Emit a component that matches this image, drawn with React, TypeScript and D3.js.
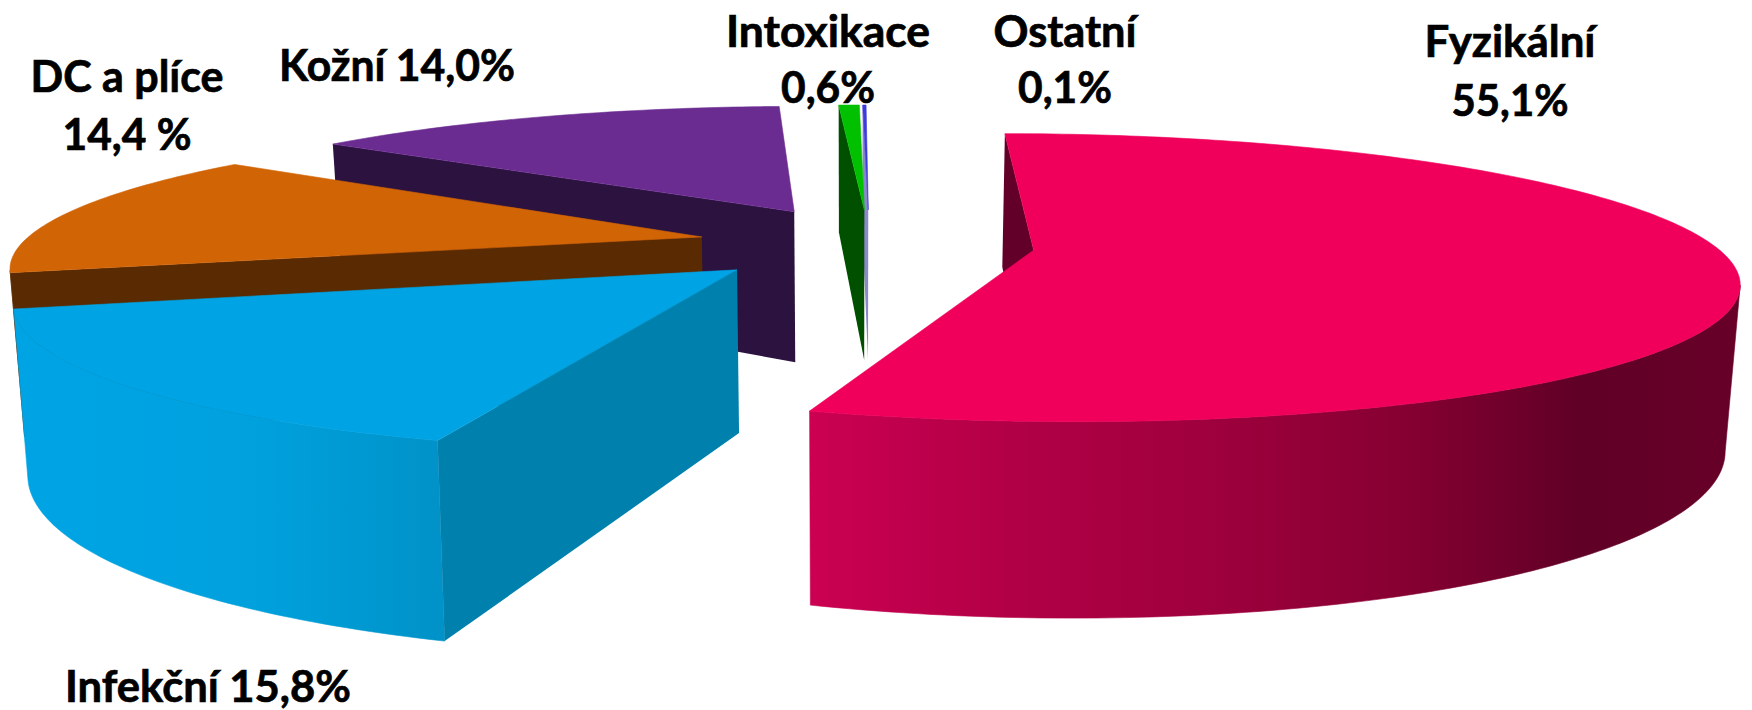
import React from "react";
import * as d3 from "d3";

const categories = ["Fyzikální", "Infekční", "DC a plíce", "Kožní", "Intoxikace", "Ostatní"];
const values = [55.1, 15.8, 14.4, 14.0, 0.6, 0.1];
const labelLines = [
  ["Fyzikální", "55,1%"],
  ["Infekční 15,8%"],
  ["DC a plíce", "14,4 %"],
  ["Kožní 14,0%"],
  ["Intoxikace", "0,6%"],
  ["Ostatní", "0,1%"],
];

// Styling and layout, kept apart from the data
const topColors = ["#f0005a", "#00a3e3", "#d16405", "#6b2c91", "#00c000", "#3c3cdc"];
const sideColors = ["#62002a", "#0080ad", "#5a2a02", "#2b123f", "#005000", "#8a8ac8"];
const wallStops: [number, string][][] = [
  [[808, "#cc0052"], [1000, "#b30046"], [1200, "#a0003e"], [1400, "#870032"], [1580, "#600026"], [1742, "#680028"]],
  [[14, "#00a3e3"], [130, "#00a3e2"], [270, "#00a0dc"], [440, "#0092c8"]],
  [[0, "#5a2a02"], [100, "#5a2a02"]],
  [[0, "#2b123f"], [100, "#2b123f"]],
  [[0, "#005000"], [100, "#005000"]],
  [[0, "#8a8ac8"], [100, "#8a8ac8"]],
];
const explodeX = [0.262, -0.166, -0.226, -0.092, 0.016, 0.022];
const explodeY = [0.03, 0.168, -0.067, -0.262, -0.277, -0.277];
const drawOrder = [3, 5, 4, 2, 1, 0];
const labelAnchors: { x: number; y: number[]; w: number[] }[] = [
  { x: 1510, y: [57, 116], w: [171, 117] },
  { x: 208, y: [702], w: [286] },
  { x: 127, y: [92, 150], w: [193, 129] },
  { x: 397, y: [81], w: [236] },
  { x: 828, y: [47, 103], w: [204, 94] },
  { x: 1065, y: [47, 103], w: [143, 94] },
];

const WIDTH = 1752;
const HEIGHT = 710;
const perspective = 0.19;
const thickness = 158;
const bottomShrink = 0.983;
const sx = d3.scaleLinear().domain([-1, 1]).range([854 - 682, 854 + 682]);
const sy = d3.scaleLinear().domain([0, 1]).range([-476, 246]);
const line = d3.line<[number, number]>().x((d) => d[0]).y((d) => d[1]);
const closed = (pts: [number, number][]) => (line(pts) || "") + "Z";

const depth = (wy: number) => 1 / (1 - perspective * wy);
const project = (wx: number, wy: number, down: boolean): [number, number] => {
  const s = depth(wy);
  return [sx(wx * s * (down ? bottomShrink : 1)), sy(s) + (down ? thickness * s : 0)];
};
// Faces the viewer if the outward normal points at the camera
const faces = (px: number, py: number, nx: number, ny: number) =>
  nx * (0 - px) + ny * (1 / perspective - py) > 0;

const arcs = d3.pie<number>().sort(null).startAngle(0).endAngle(2 * Math.PI)(values);

export default function App() {
  return (
    <svg
      width={WIDTH}
      height={HEIGHT}
      style={{ position: "absolute", left: 0, top: 0, background: "#fff" }}
    >
      <defs>
        {wallStops.map((stops, i) => {
          const x = d3.scaleLinear().domain([stops[0][0], stops[stops.length - 1][0]]).range([0, 100]);
          return (
            <linearGradient
              key={i}
              id={`wall${i}`}
              gradientUnits="userSpaceOnUse"
              x1={stops[0][0]}
              x2={stops[stops.length - 1][0]}
              y1={0}
              y2={0}
            >
              {stops.map(([p, c]) => (
                <stop key={p} offset={`${x(p)}%`} stopColor={c} />
              ))}
            </linearGradient>
          );
        })}
      </defs>
      {drawOrder.map((i) => {
        const a = arcs[i];
        const ox = explodeX[i];
        const oy = explodeY[i];
        const steps = Math.max(4, Math.ceil((a.endAngle - a.startAngle) * 60));
        const thetas = d3.range(steps + 1).map((k) => a.startAngle + ((a.endAngle - a.startAngle) * k) / steps);
        const rim = (t: number): [number, number] => [ox + Math.sin(t), oy - Math.cos(t)];
        const top = thetas.map((t) => project(rim(t)[0], rim(t)[1], false));
        const vis = thetas.filter((t) => faces(rim(t)[0], rim(t)[1], Math.sin(t), -Math.cos(t)));
        const wall: [number, number][] = [
          ...vis.map((t) => project(rim(t)[0], rim(t)[1], false)),
          ...vis.slice().reverse().map((t) => project(rim(t)[0], rim(t)[1], true)),
        ];
        const radial = (t: number, sign: number) => {
          const [rx, ry] = rim(t);
          if (!faces(ox, oy, sign * Math.cos(t), sign * Math.sin(t))) return null;
          const pts: [number, number][] = [
            project(ox, oy, false),
            project(rx, ry, false),
            project(rx, ry, true),
            project(ox, oy, true),
          ];
          return <path d={closed(pts)} fill={sideColors[i]} />;
        };
        return (
          <g key={categories[i]}>
            {vis.length > 1 && (
              <path d={closed(wall)} fill={`url(#wall${i})`} stroke={`url(#wall${i})`} strokeWidth={0.6} />
            )}
            {radial(a.startAngle, -1)}
            {radial(a.endAngle, 1)}
            <path
              d={closed([project(ox, oy, false), ...top])}
              fill={topColors[i]}
              stroke={topColors[i]}
              strokeWidth={0.6}
            />
          </g>
        );
      })}
      {labelLines.map((lines, i) =>
        lines.map((t, j) => (
          <text
            key={t}
            x={labelAnchors[i].x}
            y={labelAnchors[i].y[j]}
            textAnchor="middle"
            textLength={labelAnchors[i].w[j]}
            lengthAdjust="spacingAndGlyphs"
            fontFamily="Lato, 'Open Sans', sans-serif"
            fontWeight={700}
            fontSize={43}
            fill="#000"
            stroke="#000"
            strokeWidth={0.7}
          >
            {t}
          </text>
        ))
      )}
    </svg>
  );
}
